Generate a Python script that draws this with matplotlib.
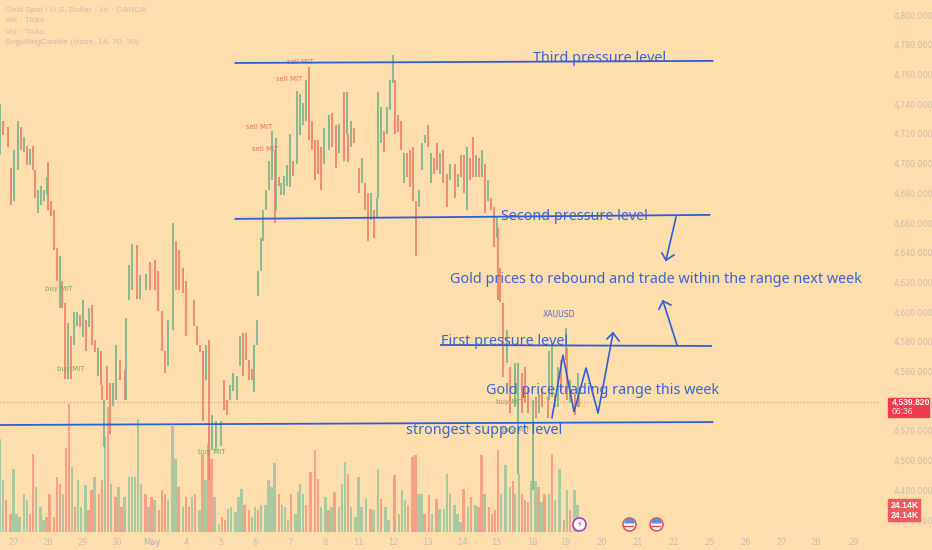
import matplotlib
matplotlib.use("Agg")
import matplotlib.pyplot as plt
from matplotlib.patches import Rectangle

# hourly bars, numbered from the left edge of the chart
candle_bar = [0,2,5,7,9,12,14,16,18,20,22,23,25,27,29,31,32,34,36,38,40,41,43,45,47,49,51,53,55,57,59,61,63,65,67,68,69,71,73,75,77,80,83,84,86,88,91,93,97,100,103,105,108,110,112,115,117,119,122,124,129,131,133,135,137,139,141,144,147,149,151,153,155,158,160,162,164,166,168,169,171,172,174,175,177,179,181,183,184,186,187,189,191,193,195,198,200,202,204,206,208,210,212,214,216,219,221,224,226,229,231,232,234,236,239,241,243,245,247,249,251,252,254,256,258,260,262,263,265,267,269,271,273,275,277,279,281,283,285,287,289,291,293,295,298,300,303,305,307,309,311,313,315,317,319,321,323,325,327,329,331,332,333,335,338,340,343,345,348,350,352,355,357,359,361,365,366,368,370,372,374,377,378,380,383,385,386]
candle_high = [4740,4729,4725,4697,4709,4729,4725,4718,4712,4710,4712,4696,4682,4685,4682,4691,4701,4675,4669,4643,4638,4621,4606,4593,4584,4600,4600,4598,4608,4595,4603,4605,4581,4576,4574,4551,4541,4564,4552,4552,4578,4568,4561,4596,4632,4646,4645,4625,4626,4634,4635,4628,4601,4574,4595,4660,4648,4642,4630,4621,4608,4591,4578,4574,4578,4581,4531,4527,4527,4554,4541,4551,4559,4557,4584,4586,4586,4568,4562,4578,4595,4628,4650,4669,4682,4702,4722,4709,4717,4691,4687,4692,4699,4720,4702,4749,4747,4741,4756,4765,4729,4716,4716,4711,4724,4733,4734,4726,4727,4748,4748,4720,4729,4724,4697,4704,4687,4680,4680,4669,4677,4748,4738,4722,4738,4756,4773,4756,4733,4729,4707,4707,4709,4711,4675,4682,4714,4719,4726,4707,4704,4714,4707,4709,4693,4700,4700,4693,4706,4706,4711,4704,4718,4706,4704,4709,4700,4689,4677,4671,4664,4657,4630,4606,4588,4563,4566,4566,4559,4563,4549,4541,4543,4545,4549,4543,4574,4579,4545,4563,4568,4589,4576,4554,4545,4559,4543]
candle_low = [4706,4719,4711,4672,4675,4696,4709,4708,4699,4699,4696,4677,4667,4672,4675,4679,4669,4665,4642,4621,4603,4603,4555,4555,4555,4578,4591,4590,4583,4574,4590,4578,4573,4557,4551,4541,4509,4541,4518,4537,4541,4554,4541,4541,4608,4615,4609,4609,4615,4615,4615,4601,4574,4559,4564,4588,4615,4615,4613,4584,4591,4578,4573,4527,4554,4487,4507,4507,4510,4534,4531,4541,4547,4541,4564,4557,4568,4554,4554,4546,4578,4611,4628,4648,4669,4682,4689,4660,4669,4685,4679,4679,4685,4684,4692,4700,4719,4726,4729,4716,4709,4689,4693,4682,4700,4709,4711,4697,4707,4702,4720,4701,4711,4714,4680,4687,4669,4648,4662,4650,4664,4677,4714,4708,4720,4736,4754,4720,4721,4709,4687,4691,4684,4675,4638,4671,4696,4714,4711,4687,4693,4696,4693,4687,4671,4689,4677,4684,4691,4680,4669,4689,4691,4691,4691,4691,4667,4675,4669,4644,4650,4608,4607,4556,4566,4532,4536,4491,4532,4539,4532,4480,4529,4532,4536,4529,4541,4543,4536,4536,4547,4568,4541,4539,4531,4536,4536]
candle_up = [1,0,0,0,1,1,0,1,0,1,0,0,1,1,1,1,0,0,0,0,1,0,0,1,0,1,1,0,1,0,1,0,0,1,0,0,1,0,0,1,1,0,0,1,1,1,0,1,1,0,0,0,0,0,1,1,0,0,0,0,0,0,0,0,1,0,1,1,1,0,0,1,1,1,1,0,0,0,0,1,1,1,1,1,1,1,1,0,1,0,1,1,1,1,0,1,1,1,1,0,0,0,0,0,1,1,0,0,1,0,1,0,1,0,0,1,0,0,1,0,1,1,1,0,1,1,1,0,0,0,1,0,0,0,0,1,1,1,0,1,0,0,1,0,0,1,0,1,0,0,1,0,0,1,0,1,0,1,0,0,1,0,0,0,1,0,1,1,0,0,0,1,0,1,0,0,1,1,0,1,0,1,0,1,0,1,0]

vol_bar = [0,2,4,7,9,11,13,16,18,20,22,24,27,29,31,33,36,38,40,42,44,46,48,50,52,54,57,59,61,63,66,68,70,72,74,77,79,81,83,86,88,90,92,94,97,99,101,103,106,108,110,112,115,117,119,122,124,126,128,130,133,135,137,139,141,143,146,148,150,152,154,157,159,161,163,166,168,170,172,174,177,179,181,183,186,188,190,192,194,197,199,
           200,202,204,207,210,212,214,217,219,221,223,226,228,230,232,234,237,239,241,244,247,249,252,254,257,259,263,266,268,270,272,275,277,279,281,283,286,288,291,293,296,298,300,303,305,307,309,312,314,317,319,321,323,326,328,330,332,334,337,340,
           342,343,346,348,350,352,354,357,359,361,363,366,368,370,373,376,378,380,383,385]
vol_k = [85,47,29,16,57,16,14,35,29,16,71,41,23,11,14,35,14,50,44,35,76,116,59,23,47,23,43,20,38,50,35,47,86,114,44,32,41,23,32,50,50,50,103,44,35,23,32,29,20,38,35,29,96,66,41,23,32,23,32,35,20,71,47,80,66,32,7,14,11,21,23,18,32,39,25,20,14,23,20,25,25,47,41,63,35,25,23,11,35,16,36,
         44,35,25,55,75,48,23,32,20,23,36,23,44,64,53,23,14,50,23,30,21,20,57,30,23,11,52,16,38,29,25,68,70,35,35,16,34,16,30,21,21,53,35,25,16,9,39,23,32,25,23,70,35,23,16,20,75,35,61,41,
         46,35,53,35,29,27,46,46,41,27,35,35,71,29,57,11,38,20,38,24.14]
vol_up = [1,1,0,0,1,1,1,1,1,0,0,1,1,1,0,0,0,0,0,1,0,0,1,0,1,1,1,0,0,1,0,0,1,0,1,0,1,0,1,1,1,1,1,1,0,1,0,1,0,0,0,1,1,1,0,1,0,0,1,0,1,0,1,0,0,1,1,0,0,1,1,1,1,1,0,0,1,1,0,1,1,1,1,1,0,1,1,1,0,1,1,
          1,1,0,0,0,0,1,1,0,1,0,1,1,1,0,1,1,1,1,1,0,1,1,0,1,1,0,1,1,1,0,0,0,1,1,0,0,1,0,1,1,1,1,1,1,1,0,1,0,1,0,0,1,0,0,0,0,1,1,1,
          0,1,1,0,0,0,1,1,0,1,0,1,0,1,1,0,1,0,1,1]

last_price = 4539.82
price_ticks = list(range(4460, 4801, 20))
date_bars = [9,32,55,78,101,124,147,170,193,217,239,262,285,308,331,355,377,401,425,449,473,497,521,544,569]
date_labels = ["27","28","29","30","May","4","5","6","7","8","11","12","13","14","15","18","19","20","21","22","25","26","27","28","29"]

# trend lines: start bar, end bar, start price, end price
level_bars = [(157,475),(157,473),(294,474),(0,475)]
level_prices = [(4767.8,4769.2),(4662.8,4665.5),(4577.9,4577.2),(4524,4526)]

zigzag_bar = [368,375.3,382.7,390.7,398.7,408.7]
zigzag_price = [4529,4571,4533,4562.4,4532,4586]
zig_head_bar = [404.7,408.7,412.7]
zig_head_price = [4582,4586,4580.6]
down_bar = [450.7,444]
down_price = [4664,4635]
down_head_bar = [441.3,444,449.3]
down_head_price = [4639.8,4635,4638.5]
up_bar = [451.3,442]
up_price = [4578,4607.5]
up_head_bar = [439.3,442,447.3]
up_head_price = [4602,4607.5,4604.8]

notes = ["Third pressure level","Second pressure level","Gold prices to rebound and trade within the range next week",
         "First pressure level","Gold price trading range this week","strongest support level"]
note_bar = [355.3,334,300,294,324,270.7]
note_price = [4770.5,4664.7,4622.3,4580,4547,4520.6]

sell_bar = [200,193,173,177]
sell_price = [4768.5,4757,4724.5,4710]
buy_bar = [39,47,141,340,344]
buy_price = [4615.5,4562,4506,4539.5,4520.5]
flag_bars = [419.3,437.3]
bolt_bar = 386

BG = "#ffdead"
BLUE = "#2f5fd6"
GREY = "#c8bcb0"
UP = "#78b48c"
DOWN = "#f0806c"

fig = plt.figure(figsize=(9.32,5.5), dpi=100, facecolor=BG)
vol_ax = fig.add_axes([0,18/550,880/932,532/550])
ax = vol_ax.twinx()
vol_ax.set_facecolor(BG)
ax.patch.set_visible(False)

# volume sits behind the candles
vol_colors = ["#a8c9a2" if u else "#f6a187" for u in vol_up]
vol_ax.bar(vol_bar, vol_k, width=1.4, color=vol_colors, linewidth=0)
vol_ax.set_ylim(0,484)
vol_ax.set_yticks([])

colors = [UP if u else DOWN for u in candle_up]
ax.vlines(candle_bar, candle_low, candle_high, colors=colors, linewidth=1.25, zorder=2)
ax.axhline(last_price, color="#ea8f72", lw=0.8, ls=(0,(1,2)), zorder=1)

for xs, ys in zip(level_bars, level_prices):
    ax.plot(xs, ys, color=BLUE, lw=1.3, zorder=4)
ax.plot(zigzag_bar, zigzag_price, color=BLUE, lw=1.2, zorder=4)
ax.plot(zig_head_bar, zig_head_price, color=BLUE, lw=1.2, zorder=4)
ax.plot(down_bar, down_price, color=BLUE, lw=1.2, zorder=4)
ax.plot(down_head_bar, down_head_price, color=BLUE, lw=1.2, zorder=4)
ax.plot(up_bar, up_price, color=BLUE, lw=1.2, zorder=4)
ax.plot(up_head_bar, up_head_price, color=BLUE, lw=1.2, zorder=4)

for s, x, y in zip(notes, note_bar, note_price):
    ax.text(x, y, s, color="#3a64d4", fontsize=10.35, family="Noto Sans", va="center", ha="left", zorder=5)
ax.text(373, 4598.7, "XAUUSD", color="#4f6fb8", fontsize=5.6, va="center", ha="center", zorder=5)

for x, y in zip(sell_bar, sell_price):
    ax.text(x, y, "sell MIT", color="#ee7060", fontsize=5, ha="center", va="center", zorder=3)
for x, y in zip(buy_bar, buy_price):
    ax.text(x, y, "buy MIT", color="#74ab5c", fontsize=5, ha="center", va="center", zorder=3)

ax.set_xlim(0,880/1.5)
ax.set_ylim(4810.2-532*0.6734,4810.2)
ax.yaxis.tick_right()
ax.set_yticks(price_ticks)
ax.set_yticklabels([f"{p:,.3f}" for p in price_ticks], fontsize=5.6, color=GREY)
ax.tick_params(axis="y", length=0, pad=9.5)
vol_ax.set_xticks(date_bars)
vol_ax.set_xticklabels(date_labels, fontsize=6, color=GREY)
vol_ax.get_xticklabels()[4].set_color("#b9a9c4")
vol_ax.tick_params(axis="x", length=0, pad=4)
for a in (ax, vol_ax):
    for sp in a.spines.values():
        sp.set_visible(False)

# header text
header = ["Gold Spot / U.S. Dollar · 1h · OANDA","Vol · Ticks","Vol · Ticks","EngulfingCandle (close, 14, 70, 30)"]
for s, py in zip(header, [10,21,32,43]):
    fig.text(5/932, 1-py/550, s, color=GREY, fontsize=6.1, family="Liberation Sans", va="center")

# price scale labels
trans = ax.get_yaxis_transform()
ax.add_patch(Rectangle((888/880,4529.6),41/880,12.8,transform=trans,color="#ee3b4d",clip_on=False,zorder=6))
ax.text(892/880,4539.2,f"{last_price:,.3f}",transform=trans,color="white",fontsize=6.2,family="Liberation Sans",fontweight="bold",va="center",zorder=7)
ax.text(892/880,4533,"06:36",transform=trans,color="#ffe3e3",fontsize=6.2,family="Liberation Sans",va="center",zorder=7)
ax.add_patch(Rectangle((888/880,4459.4),32/880,14.8,transform=trans,color="#ef5a5e",clip_on=False,zorder=6))
for y in (4470,4463.3):
    ax.text(891/880,y,f"{vol_k[-1]}K",transform=trans,color="white",fontsize=6.2,family="Liberation Sans",fontweight="bold",va="center",zorder=7)

# calendar event icons along the bottom
xtrans = ax.get_xaxis_transform()
icon_y = 8/532
ax.scatter([bolt_bar],[icon_y],s=88,transform=xtrans,facecolor="white",edgecolor="#9a35c8",lw=1.1,zorder=6,clip_on=False)
ax.text(bolt_bar,icon_y,"\u26a1",transform=xtrans,color="#d8407a",fontsize=6,ha="center",va="center",zorder=7)
for b in flag_bars:
    ax.scatter([b],[icon_y],s=88,transform=xtrans,facecolor="white",edgecolor="#e14a50",lw=1.1,zorder=6,clip_on=False)
    ax.plot([b],[icon_y+0.002],transform=xtrans,marker="o",ms=7.5,fillstyle="top",markerfacecoloralt="none",mec="none",mfc="#5f8fd8",zorder=7)
    ax.plot([b-3,b+3],[icon_y-0.004,icon_y-0.004],transform=xtrans,color="#e14a50",lw=1,zorder=7)

fig.savefig("out.png", dpi=100, facecolor=BG)
